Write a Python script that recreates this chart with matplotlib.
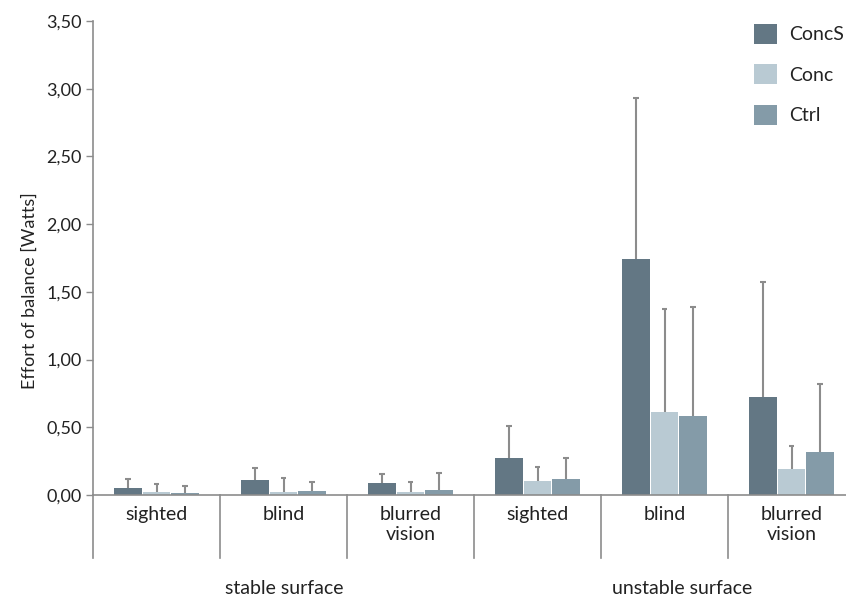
import matplotlib.pyplot as plt
from matplotlib.patches import Patch
import numpy as np

plt.rcParams['font.family'] = ['Lato', 'DejaVu Sans']

conditions = ['sighted', 'blind', 'blurred\nvision', 'sighted', 'blind', 'blurred\nvision']
surfaces = ['stable surface', 'unstable surface']
series = ['ConcS', 'Conc', 'Ctrl']

concs_mean = [0.050, 0.110, 0.090, 0.275, 1.745, 0.720]
concs_sd = [0.067, 0.087, 0.065, 0.235, 1.185, 0.850]
conc_mean = [0.025, 0.025, 0.025, 0.105, 0.610, 0.190]
conc_sd = [0.056, 0.098, 0.073, 0.105, 0.760, 0.170]
ctrl_mean = [0.018, 0.030, 0.037, 0.120, 0.580, 0.320]
ctrl_sd = [0.046, 0.068, 0.127, 0.150, 0.805, 0.500]

colors = ['#637784', '#b9cad3', '#849ba8']
grey = '#8c8c8c'
txt = '#222222'

fig = plt.figure(figsize=(8.46, 6.01), dpi=100)
ax = fig.add_axes([93 / 846, 106 / 601, 762 / 846, 474 / 601])

x = np.arange(len(conditions))
step = 0.225
w = 0.218
means = [concs_mean, conc_mean, ctrl_mean]
sds = [concs_sd, conc_sd, ctrl_sd]
cap = 0.022
for i in range(3):
    pos = x + (i - 1) * step
    m = np.array(means[i])
    top = m + np.array(sds[i])
    ax.bar(pos, m, width=w, color=colors[i], linewidth=0, zorder=2)
    # upper error bars only
    ax.vlines(pos, m, top, color=grey, lw=1.5, zorder=1)
    ax.hlines(top, pos - cap, pos + cap, color=grey, lw=1.5, zorder=1)

ax.set_xlim(-0.5, 5.5)
ax.set_ylim(0, 3.5)
yt = np.arange(0, 3.51, 0.5)
ax.set_yticks(yt)
ax.set_yticklabels([f'{v:.2f}'.replace('.', ',') for v in yt], fontsize=13, color=txt)
ax.tick_params(axis='y', length=5, color=grey, width=1, pad=3)
ax.set_xticks([])
for s in ['top', 'right']:
    ax.spines[s].set_visible(False)
for s in ['left', 'bottom']:
    ax.spines[s].set_color(grey)
    ax.spines[s].set_linewidth(1.2)
ax.set_ylabel('Effort of balance [Watts]', fontsize=13, color=txt)
ax.yaxis.set_label_coords(-0.073, 0.432)

# separators under the axis
trans = ax.get_xaxis_transform()
drop = -63 / 474
for b in np.arange(-0.5, 6.0, 1.0):
    ax.plot([b, b], [0, drop], color=grey, lw=1.2, transform=trans, clip_on=False)

for xi, lab in zip(x, conditions):
    ax.text(xi, -11 / 474, lab, transform=trans, ha='center', va='top',
            fontsize=14, color=txt, linespacing=1.2)

fig.text(284 / 846, 1 - 588 / 601, surfaces[0], ha='center', va='center', fontsize=14, color=txt)
fig.text(682 / 846, 1 - 588 / 601, surfaces[1], ha='center', va='center', fontsize=14, color=txt)

handles = [Patch(facecolor=c, edgecolor='none') for c in colors]
leg = fig.legend(handles, series, loc='upper left', bbox_to_anchor=(750 / 846, 1 - 20 / 601),
                 frameon=False, fontsize=14, handlelength=1.2, handleheight=1.2,
                 labelspacing=1.05, handletextpad=0.6, borderaxespad=0, borderpad=0.2)
for t in leg.get_texts():
    t.set_color(txt)

fig.savefig('out.png', dpi=100)
